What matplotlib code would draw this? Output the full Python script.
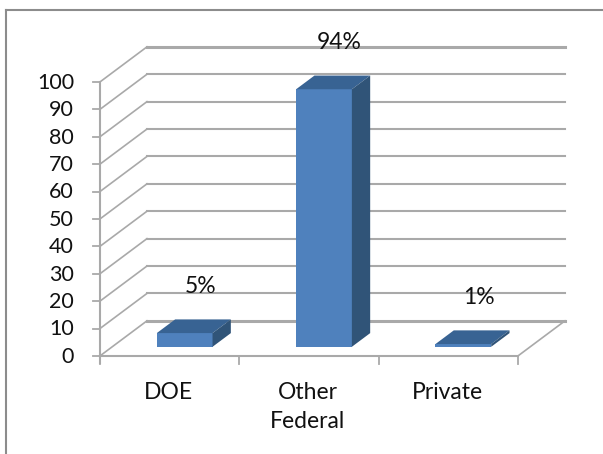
import matplotlib

matplotlib.use("Agg")
import matplotlib.pyplot as plt
from matplotlib.lines import Line2D
from matplotlib.patches import Polygon

plt.rcParams["font.family"] = ["Lato", "DejaVu Sans"]

categories = ["DOE", "Other\nFederal", "Private"]
values = [5, 94, 1]
value_labels = ["5%", "94%", "1%"]
y_ticks = list(range(0, 101, 10))

GRID = "#a9a9a9"
FRONT = "#4f81bd"
TOP = "#386393"
SIDE = "#305478"
TICK_SIZE = 15.5
LABEL_SIZE = 16.5

# oblique depth of the fake 3d floor, in data units
DEPTH_X = 0.337
DEPTH_Y = 12.8
BAR_WIDTH = 0.4
BAR_NEAR = 0.26
BAR_FAR = 0.65


def project(x, y, depth=0.0):
    return x + depth * DEPTH_X, y + depth * DEPTH_Y


def draw_walls(ax):
    for tick in y_ticks:
        heavy = tick in (0, 100)
        x0, y0 = project(0, tick, 1)
        x1, y1 = project(3, tick, 1)
        ax.plot([x0, x1], [y0, y1], color=GRID, lw=2.2 if heavy else 1.5, zorder=1)
        ax.plot([0, x0], [tick, y0], color=GRID, lw=1.2, zorder=1)
        ax.plot([-0.05, 0], [tick, tick], color=GRID, lw=1.3, zorder=1)
        ax.text(-0.187, tick - 0.3, str(tick), ha="right", va="center",
                fontsize=TICK_SIZE, color="#111111")
    x1, y1 = project(3, 0, 1)
    ax.plot([3, x1], [0, y1], color=GRID, lw=1.2, zorder=1)
    ax.plot([0, 0], [-2.5, 100], color=GRID, lw=1.5, zorder=2)
    ax.plot([0, 3], [0, 0], color=GRID, lw=1.5, zorder=2)
    for i in range(4):
        ax.plot([i, i], [-2.8, 0], color=GRID, lw=1.3, zorder=2)


def draw_bar(ax, center, value):
    left = center - BAR_WIDTH / 2
    right = center + BAR_WIDTH / 2
    lb = project(left, 0, BAR_NEAR)
    rb = project(right, 0, BAR_NEAR)
    lt = project(left, value, BAR_NEAR)
    rt = project(right, value, BAR_NEAR)
    rb2 = project(right, 0, BAR_FAR)
    lt2 = project(left, value, BAR_FAR)
    rt2 = project(right, value, BAR_FAR)
    ax.add_patch(Polygon([lb, rb, rt, lt], color=FRONT, lw=0, zorder=3))
    ax.add_patch(Polygon([lt, rt, rt2, lt2], color=TOP, lw=0, zorder=3))
    ax.add_patch(Polygon([rb, rb2, rt2, rt], color=SIDE, lw=0, zorder=3))


fig = plt.figure(figsize=(6.03, 4.54), dpi=100)
ax = fig.add_axes([0, 0, 1, 1])
ax.set_xlim(-0.7177, 3.61)
ax.set_ylim(-35.8, 129.9)
ax.axis("off")

# the frame only shows on the top and left, the rest is cropped off
frame_x = 6 / 603
frame_y = 1 - 10 / 454
fig.add_artist(Line2D([frame_x, 1], [frame_y, frame_y], color="#8c8c8c", lw=1.5))
fig.add_artist(Line2D([frame_x, frame_x], [0, frame_y], color="#8c8c8c", lw=1.5))

draw_walls(ax)

for i, value in enumerate(values):
    center = i + 0.52
    draw_bar(ax, center, value)
    ax.text(center + 0.2, value + 20.5, value_labels[i], ha="center",
            va="center", fontsize=LABEL_SIZE, color="#111111", zorder=5)
    ax.text(i + 0.49, -9.7, categories[i], ha="center", va="top",
            fontsize=LABEL_SIZE, color="#111111", linespacing=1.45)

fig.savefig("out.png", dpi=100)
